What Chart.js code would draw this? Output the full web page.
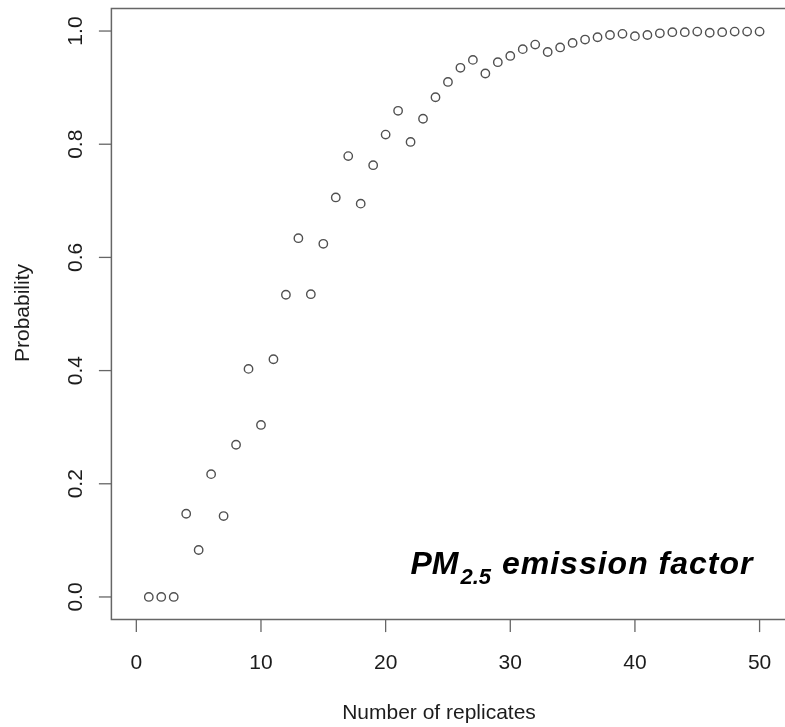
<!DOCTYPE html>
<html>
<head>
<meta charset="utf-8">
<title>Probability vs number of replicates</title>
<script src="https://cdn.jsdelivr.net/npm/chart.js@4/dist/chart.umd.min.js"></script>
<style>
    html, body { margin: 0; padding: 0; background: #fff; overflow: hidden; }
    #wrap { position: absolute; left: 0; top: 0; width: 785px; height: 727px; }
</style>
</head>
<body>
<div id="wrap"><canvas id="probChart" width="785" height="727"></canvas></div>
<script>
// Data
const replicates = [1, 2, 3, 4, 5, 6, 7, 8, 9, 10,
    11, 12, 13, 14, 15, 16, 17, 18, 19, 20,
    21, 22, 23, 24, 25, 26, 27, 28, 29, 30,
    31, 32, 33, 34, 35, 36, 37, 38, 39, 40,
    41, 42, 43, 44, 45, 46, 47, 48, 49, 50];
const probability = [0, 0, 0, 0.147, 0.083, 0.217, 0.143, 0.269, 0.403, 0.304,
    0.420, 0.534, 0.634, 0.535, 0.624, 0.706, 0.779, 0.695, 0.763, 0.817,
    0.859, 0.804, 0.845, 0.883, 0.910, 0.935, 0.949, 0.925, 0.945, 0.956,
    0.968, 0.976, 0.963, 0.971, 0.979, 0.985, 0.989, 0.993, 0.995, 0.991,
    0.993, 0.996, 0.998, 0.998, 0.999, 0.997, 0.998, 0.999, 0.999, 0.999];
const xTicks = [0, 10, 20, 30, 40, 50];
const yTicks = [0, 0.2, 0.4, 0.6, 0.8, 1.0];
const xTitle = 'Number of replicates';
const yTitle = 'Probability';

const FONT = '"Liberation Sans", Arial, sans-serif';

// R style frame: box (right side is cut off in the original), outside ticks,
// rotated y labels, note in the corner
const rFrame = {
    id: 'rFrame',
    afterDraw(chart) {
        const ctx = chart.ctx;
        const area = chart.chartArea;
        const xs = chart.scales.x;
        const ys = chart.scales.y;

        ctx.save();
        ctx.strokeStyle = '#666';
        ctx.lineWidth = 1.5;
        ctx.beginPath();
        ctx.moveTo(chart.width + 2, area.top);
        ctx.lineTo(area.left, area.top);
        ctx.lineTo(area.left, area.bottom);
        ctx.lineTo(chart.width + 2, area.bottom);
        ctx.stroke();

        // x ticks
        ctx.lineWidth = 1.3;
        ctx.fillStyle = '#1c1c1c';
        ctx.font = '21px ' + FONT;
        ctx.textAlign = 'center';
        ctx.textBaseline = 'alphabetic';
        xTicks.forEach(v => {
            const px = xs.getPixelForValue(v);
            ctx.beginPath();
            ctx.moveTo(px, area.bottom);
            ctx.lineTo(px, area.bottom + 12.5);
            ctx.stroke();
            ctx.fillText(String(v), px, 668.5);
        });

        // y ticks, labels turned like R's default
        yTicks.forEach(v => {
            const py = ys.getPixelForValue(v);
            ctx.beginPath();
            ctx.moveTo(area.left, py);
            ctx.lineTo(area.left - 12.5, py);
            ctx.stroke();
            ctx.save();
            ctx.translate(81.5, py);
            ctx.rotate(-Math.PI / 2);
            ctx.fillText(v.toFixed(1), 0, 0);
            ctx.restore();
        });

        // axis titles
        ctx.fillText(xTitle, 439, 718.5);
        ctx.save();
        ctx.translate(28.5, 313);
        ctx.rotate(-Math.PI / 2);
        ctx.fillText(yTitle, 0, 0);
        ctx.restore();

        // PM2.5 note
        ctx.fillStyle = '#000';
        ctx.textAlign = 'left';
        let x = 410.5;
        ctx.font = 'italic bold 32px ' + FONT;
        ctx.fillText('PM', x, 573.5);
        x += ctx.measureText('PM').width + 2;
        ctx.font = 'italic bold 22px ' + FONT;
        ctx.fillText('2.5', x, 583.5);
        x += ctx.measureText('2.5').width + 1;
        ctx.font = 'italic bold 32px ' + FONT;
        ctx.letterSpacing = '1px';
        ctx.fillText(' emission factor', x, 573.5);
        ctx.letterSpacing = '0px';
        ctx.restore();
    }
};

function renderChart() {
    const ctx = document.getElementById('probChart');
    new Chart(ctx, {
        type: 'scatter',
        data: {
            datasets: [{
                label: yTitle,
                data: replicates.map((r, i) => ({ x: r, y: probability[i] })),
                pointStyle: 'circle',
                pointRadius: 4.2,
                pointHoverRadius: 4.2,
                borderWidth: 1.4,
                borderColor: '#505050',
                backgroundColor: 'rgba(0,0,0,0)'
            }]
        },
        options: {
            responsive: false,
            animation: false,
            devicePixelRatio: 1,
            layout: {
                padding: { left: 111.4, right: 0, top: 8.4, bottom: 107.4 }
            },
            plugins: {
                legend: { display: false },
                tooltip: { enabled: false }
            },
            scales: {
                // R pads the 0..50 range by 4%; the plot is cut at the right edge
                x: { type: 'linear', min: -2, max: 51.59, display: false },
                y: { type: 'linear', min: -0.04, max: 1.04, display: false }
            }
        },
        plugins: [rFrame]
    });
}

document.addEventListener('DOMContentLoaded', renderChart);
</script>
</body>
</html>
